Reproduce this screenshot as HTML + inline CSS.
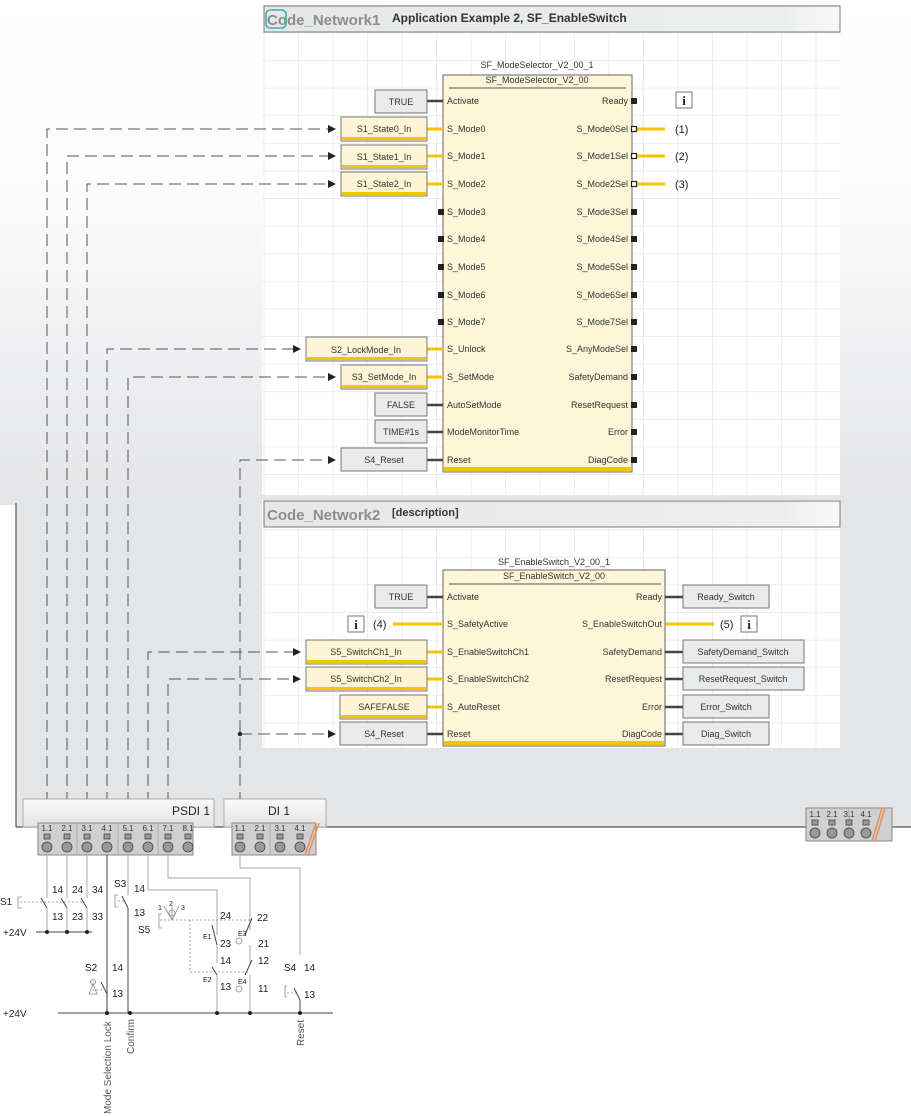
<!DOCTYPE html>
<html><head><meta charset="utf-8"><style>
html,body{margin:0;padding:0;background:#fff}
svg{display:block;font-family:"Liberation Sans",sans-serif}
</style></head><body>
<svg width="911" height="1116" viewBox="0 0 911 1116" xmlns="http://www.w3.org/2000/svg">
<defs>
<linearGradient id="bg" x1="0" y1="0" x2="0" y2="1">
<stop offset="0" stop-color="#ffffff"/><stop offset="0.4" stop-color="#fbfbfb"/><stop offset="0.8" stop-color="#eaebed"/><stop offset="1" stop-color="#e4e5e7"/>
</linearGradient>
<linearGradient id="hdr" x1="0" y1="0" x2="1" y2="0">
<stop offset="0" stop-color="#e6e8e8"/><stop offset="0.9" stop-color="#eceeee"/><stop offset="1" stop-color="#f8f8f8"/>
</linearGradient>
<linearGradient id="mod" x1="0" y1="0" x2="0" y2="1">
<stop offset="0" stop-color="#fafafa"/><stop offset="1" stop-color="#e2e3e5"/>
</linearGradient>
<pattern id="grid" x="298" y="60" width="34.5" height="27.6" patternUnits="userSpaceOnUse">
<path d="M0 0V27.6M0 0H34.5" stroke="#ececec" stroke-width="2" fill="none"/>
</pattern>
<marker id="ar" markerWidth="8" markerHeight="8" refX="7" refY="4" orient="auto" markerUnits="userSpaceOnUse">
<path d="M0 0L8 4L0 8z" fill="#222"/>
</marker>
</defs>
<rect x="0" y="0" width="911" height="505" fill="url(#bg)"/>
<rect x="16" y="505" width="895" height="322" fill="#e4e5e7"/>
<line x1="16" y1="503" x2="16" y2="827" stroke="#555" stroke-width="1.2"/>
<line x1="16" y1="827" x2="911" y2="827" stroke="#555" stroke-width="1.2"/>

<rect x="262" y="5" width="578" height="490" fill="#fff"/>
<rect x="262" y="5" width="578" height="490" fill="url(#grid)"/>
<rect x="262" y="500" width="578" height="248" fill="#fff"/>
<rect x="262" y="500" width="578" height="248" fill="url(#grid)"/>
<rect x="264" y="6" width="576" height="26" fill="url(#hdr)" stroke="#777"/>
<rect x="266" y="10" width="20" height="18" rx="4" fill="none" stroke="#3aaeb5" stroke-width="1.6"/>
<text x="267" y="25" font-size="15" font-weight="bold" fill="#8c8c8c">Code_Network1</text>
<text x="392" y="22" font-size="12" font-weight="bold" fill="#333">Application Example 2, SF_EnableSwitch</text>
<rect x="264" y="501" width="576" height="26" fill="url(#hdr)" stroke="#777"/>
<text x="267" y="520" font-size="15" font-weight="bold" fill="#8c8c8c">Code_Network2</text>
<text x="392" y="516" font-size="11" font-weight="bold" fill="#333">[description]</text>

<g stroke="#555" stroke-width="1" fill="none" stroke-dasharray="12,6">
<path d="M47 822V129H335" marker-end="url(#ar)"/>
<path d="M67 822V156H335" marker-end="url(#ar)"/>
<path d="M87 822V184H335" marker-end="url(#ar)"/>
<path d="M107 822V349H300" marker-end="url(#ar)"/>
<path d="M128 822V377H335" marker-end="url(#ar)"/>
<path d="M148 822V652H300" marker-end="url(#ar)"/>
<path d="M168 822V679H300" marker-end="url(#ar)"/>
<path d="M240 822V460H335" marker-end="url(#ar)"/>
<path d="M240 734H335" marker-end="url(#ar)"/>
</g>
<circle cx="240" cy="734" r="2.2" fill="#222"/>

<text x="537" y="68" font-size="9" text-anchor="middle" fill="#333">SF_ModeSelector_V2_00_1</text>
<rect x="443" y="75" width="189" height="397" fill="#fdf6d8" stroke="#666"/>
<rect x="444" y="467" width="187" height="4" fill="#f5c400"/>
<text x="537" y="83" font-size="9" text-anchor="middle" fill="#333">SF_ModeSelector_V2_00</text>
<line x1="449" y1="88" x2="626" y2="88" stroke="#555"/>
<g font-size="9" fill="#333">
<text x="447" y="104">Activate</text><text x="447" y="132">S_Mode0</text><text x="447" y="159">S_Mode1</text><text x="447" y="187">S_Mode2</text>
<text x="447" y="215">S_Mode3</text><text x="447" y="242">S_Mode4</text><text x="447" y="270">S_Mode5</text><text x="447" y="298">S_Mode6</text>
<text x="447" y="325">S_Mode7</text><text x="447" y="352">S_Unlock</text><text x="447" y="380">S_SetMode</text><text x="447" y="408">AutoSetMode</text>
<text x="447" y="435">ModeMonitorTime</text><text x="447" y="463">Reset</text>
</g>
<g font-size="9" fill="#333" text-anchor="end">
<text x="628" y="104">Ready</text><text x="628" y="132">S_Mode0Sel</text><text x="628" y="159">S_Mode1Sel</text><text x="628" y="187">S_Mode2Sel</text>
<text x="628" y="215">S_Mode3Sel</text><text x="628" y="242">S_Mode4Sel</text><text x="628" y="270">S_Mode5Sel</text><text x="628" y="298">S_Mode6Sel</text>
<text x="628" y="325">S_Mode7Sel</text><text x="628" y="352">S_AnyModeSel</text><text x="628" y="380">SafetyDemand</text><text x="628" y="408">ResetRequest</text>
<text x="628" y="435">Error</text><text x="628" y="463">DiagCode</text>
</g>
<g fill="#222">
<rect x="631" y="98" width="6" height="6"/>
<rect x="631" y="209" width="6" height="6"/><rect x="631" y="236" width="6" height="6"/><rect x="631" y="264" width="6" height="6"/>
<rect x="631" y="292" width="6" height="6"/><rect x="631" y="319" width="6" height="6"/><rect x="631" y="346" width="6" height="6"/>
<rect x="631" y="374" width="6" height="6"/><rect x="631" y="402" width="6" height="6"/><rect x="631" y="429" width="6" height="6"/><rect x="631" y="457" width="6" height="6"/>
<rect x="438" y="209" width="6" height="6"/><rect x="438" y="236" width="6" height="6"/><rect x="438" y="264" width="6" height="6"/>
<rect x="438" y="292" width="6" height="6"/><rect x="438" y="319" width="6" height="6"/>
</g>
<g stroke="#f5c400" stroke-width="3">
<line x1="632" y1="129" x2="665" y2="129"/><line x1="632" y1="156" x2="665" y2="156"/><line x1="632" y1="184" x2="665" y2="184"/>
<line x1="427" y1="129" x2="443" y2="129"/><line x1="427" y1="156" x2="443" y2="156"/><line x1="427" y1="184" x2="443" y2="184"/>
<line x1="427" y1="349" x2="443" y2="349"/><line x1="427" y1="377" x2="443" y2="377"/>
</g>
<g fill="#fff" stroke="#222" stroke-width="1.2"><rect x="631.5" y="126.5" width="5" height="5"/><rect x="631.5" y="153.5" width="5" height="5"/><rect x="631.5" y="181.5" width="5" height="5"/></g>
<g stroke="#444" stroke-width="2.5">
<line x1="427" y1="101" x2="443" y2="101"/><line x1="427" y1="405" x2="443" y2="405"/><line x1="427" y1="432" x2="443" y2="432"/><line x1="427" y1="460" x2="443" y2="460"/>
</g>
<g font-size="11" fill="#222"><text x="675" y="133">(1)</text><text x="675" y="160">(2)</text><text x="675" y="188">(3)</text></g>
<rect x="676" y="92" width="16" height="16" fill="#fff" stroke="#777"/><text x="684" y="105" font-size="13" font-weight="bold" font-family="Liberation Serif,serif" text-anchor="middle" fill="#222">i</text>

<g font-size="9" fill="#333" text-anchor="middle">
<rect x="375" y="90" width="52" height="23" fill="#e9eaeb" stroke="#777"/><text x="401" y="105">TRUE</text>
<rect x="341" y="117" width="86" height="24" fill="#fdf5d5" stroke="#777"/><rect x="342" y="137" width="84" height="3" fill="#f5c400"/><text x="384" y="132">S1_State0_In</text>
<rect x="341" y="145" width="86" height="24" fill="#fdf5d5" stroke="#777"/><rect x="342" y="165" width="84" height="3" fill="#f5c400"/><text x="384" y="160">S1_State1_In</text>
<rect x="341" y="172" width="86" height="24" fill="#fdf5d5" stroke="#777"/><rect x="342" y="192" width="84" height="3" fill="#f5c400"/><text x="384" y="187">S1_State2_In</text>
<rect x="306" y="337" width="121" height="24" fill="#fdf5d5" stroke="#777"/><rect x="307" y="357" width="119" height="3" fill="#f5c400"/><text x="366" y="353">S2_LockMode_In</text>
<rect x="341" y="365" width="86" height="24" fill="#fdf5d5" stroke="#777"/><rect x="342" y="385" width="84" height="3" fill="#f5c400"/><text x="384" y="380">S3_SetMode_In</text>
<rect x="375" y="393" width="52" height="23" fill="#e9eaeb" stroke="#777"/><text x="401" y="408">FALSE</text>
<rect x="375" y="420" width="52" height="23" fill="#e9eaeb" stroke="#777"/><text x="401" y="435">TIME#1s</text>
<rect x="341" y="448" width="86" height="23" fill="#e9eaeb" stroke="#777"/><text x="384" y="463">S4_Reset</text>
</g>

<text x="554" y="565" font-size="9" text-anchor="middle" fill="#333">SF_EnableSwitch_V2_00_1</text>
<rect x="443" y="570" width="222" height="176" fill="#fdf6d8" stroke="#666"/>
<rect x="444" y="741" width="220" height="4" fill="#f5c400"/>
<text x="554" y="579" font-size="9" text-anchor="middle" fill="#333">SF_EnableSwitch_V2_00</text>
<line x1="449" y1="584" x2="661" y2="584" stroke="#555"/>
<g font-size="9" fill="#333">
<text x="447" y="600">Activate</text><text x="447" y="627">S_SafetyActive</text><text x="447" y="655">S_EnableSwitchCh1</text>
<text x="447" y="682">S_EnableSwitchCh2</text><text x="447" y="710">S_AutoReset</text><text x="447" y="737">Reset</text>
</g>
<g font-size="9" fill="#333" text-anchor="end">
<text x="662" y="600">Ready</text><text x="662" y="627">S_EnableSwitchOut</text><text x="662" y="655">SafetyDemand</text>
<text x="662" y="682">ResetRequest</text><text x="662" y="710">Error</text><text x="662" y="737">DiagCode</text>
</g>
<g stroke="#f5c400" stroke-width="3">
<line x1="393" y1="624" x2="443" y2="624"/><line x1="666" y1="624" x2="714" y2="624"/>
<line x1="427" y1="652" x2="443" y2="652"/><line x1="427" y1="679" x2="443" y2="679"/><line x1="427" y1="707" x2="443" y2="707"/>
</g>
<g stroke="#444" stroke-width="2.5">
<line x1="427" y1="597" x2="443" y2="597"/><line x1="427" y1="734" x2="443" y2="734"/>
<line x1="665" y1="597" x2="683" y2="597"/><line x1="665" y1="652" x2="683" y2="652"/><line x1="665" y1="679" x2="683" y2="679"/>
<line x1="665" y1="707" x2="683" y2="707"/><line x1="665" y1="734" x2="683" y2="734"/>
</g>
<g font-size="11" fill="#222"><text x="373" y="628">(4)</text><text x="720" y="628">(5)</text></g>
<rect x="348" y="616" width="16" height="16" fill="#fff" stroke="#777"/><text x="356" y="629" font-size="13" font-weight="bold" font-family="Liberation Serif,serif" text-anchor="middle" fill="#222">i</text>
<rect x="741" y="616" width="16" height="16" fill="#fff" stroke="#777"/><text x="749" y="629" font-size="13" font-weight="bold" font-family="Liberation Serif,serif" text-anchor="middle" fill="#222">i</text>
<g font-size="9" fill="#333" text-anchor="middle">
<rect x="375" y="585" width="52" height="23" fill="#e9eaeb" stroke="#777"/><text x="401" y="600">TRUE</text>
<rect x="306" y="640" width="121" height="24" fill="#fdf5d5" stroke="#777"/><rect x="307" y="660" width="119" height="3" fill="#f5c400"/><text x="366" y="655">S5_SwitchCh1_In</text>
<rect x="306" y="667" width="121" height="24" fill="#fdf5d5" stroke="#777"/><rect x="307" y="687" width="119" height="3" fill="#f5c400"/><text x="366" y="682">S5_SwitchCh2_In</text>
<rect x="340" y="695" width="87" height="24" fill="#fdf5d5" stroke="#777"/><rect x="341" y="715" width="85" height="3" fill="#f5c400"/><text x="384" y="710">SAFEFALSE</text>
<rect x="340" y="722" width="87" height="23" fill="#e9eaeb" stroke="#777"/><text x="384" y="737">S4_Reset</text>
<rect x="683" y="585" width="86" height="23" fill="#e9eaeb" stroke="#777"/><text x="726" y="600">Ready_Switch</text>
<rect x="683" y="640" width="121" height="23" fill="#e9eaeb" stroke="#777"/><text x="743" y="655">SafetyDemand_Switch</text>
<rect x="683" y="667" width="121" height="23" fill="#e9eaeb" stroke="#777"/><text x="743" y="682">ResetRequest_Switch</text>
<rect x="683" y="695" width="86" height="23" fill="#e9eaeb" stroke="#777"/><text x="726" y="710">Error_Switch</text>
<rect x="683" y="722" width="86" height="23" fill="#e9eaeb" stroke="#777"/><text x="726" y="737">Diag_Switch</text>
</g>

<rect x="23" y="799" width="191" height="28" fill="url(#mod)" stroke="#aaa"/>
<text x="172" y="815" font-size="12" fill="#222">PSDI 1</text>
<rect x="224" y="799" width="102" height="28" fill="url(#mod)" stroke="#aaa"/>
<text x="268" y="815" font-size="12" fill="#222">DI 1</text>
<rect x="38" y="823" width="155" height="32" fill="#cfd0d2" stroke="#888"/>
<rect x="232" y="823" width="84" height="32" fill="#cfd0d2" stroke="#888"/>
<rect x="806" y="808" width="86" height="33" fill="#cfd0d2" stroke="#888"/>
<g stroke="#aaa"><line x1="77" y1="824" x2="77" y2="854"/><line x1="118" y1="824" x2="118" y2="854"/><line x1="158" y1="824" x2="158" y2="854"/><line x1="270" y1="824" x2="270" y2="854"/><line x1="849" y1="809" x2="849" y2="840"/></g>
<g font-size="8" fill="#333" text-anchor="middle">
<text x="47" y="831">1.1</text><text x="67" y="831">2.1</text><text x="87" y="831">3.1</text><text x="107" y="831">4.1</text>
<text x="128" y="831">5.1</text><text x="148" y="831">6.1</text><text x="168" y="831">7.1</text><text x="188" y="831">8.1</text>
<text x="240" y="831">1.1</text><text x="260" y="831">2.1</text><text x="280" y="831">3.1</text><text x="300" y="831">4.1</text>
<text x="815" y="817">1.1</text><text x="832" y="817">2.1</text><text x="849" y="817">3.1</text><text x="866" y="817">4.1</text>
</g>
<g fill="#999" stroke="#444" stroke-width="0.8">
<rect x="44" y="834" width="6" height="5"/><rect x="64" y="834" width="6" height="5"/><rect x="84" y="834" width="6" height="5"/><rect x="104" y="834" width="6" height="5"/>
<rect x="125" y="834" width="6" height="5"/><rect x="145" y="834" width="6" height="5"/><rect x="165" y="834" width="6" height="5"/><rect x="185" y="834" width="6" height="5"/>
<rect x="237" y="834" width="6" height="5"/><rect x="257" y="834" width="6" height="5"/><rect x="277" y="834" width="6" height="5"/><rect x="297" y="834" width="6" height="5"/>
<rect x="812" y="820" width="6" height="5"/><rect x="829" y="820" width="6" height="5"/><rect x="846" y="820" width="6" height="5"/><rect x="863" y="820" width="6" height="5"/>
<circle cx="47" cy="847" r="5"/><circle cx="67" cy="847" r="5"/><circle cx="87" cy="847" r="5"/><circle cx="107" cy="847" r="5"/>
<circle cx="128" cy="847" r="5"/><circle cx="148" cy="847" r="5"/><circle cx="168" cy="847" r="5"/><circle cx="188" cy="847" r="5"/>
<circle cx="240" cy="847" r="5"/><circle cx="260" cy="847" r="5"/><circle cx="280" cy="847" r="5"/><circle cx="300" cy="847" r="5"/>
<circle cx="815" cy="833" r="5"/><circle cx="832" cy="833" r="5"/><circle cx="849" cy="833" r="5"/><circle cx="866" cy="833" r="5"/>
</g>
<g stroke="#e8905a" stroke-width="1.5"><line x1="305" y1="855" x2="316" y2="823"/><line x1="308" y1="855" x2="319" y2="823"/><line x1="872" y1="841" x2="882" y2="808"/><line x1="875" y1="841" x2="885" y2="808"/></g>

<g stroke="#aaa" stroke-width="1" fill="none">
<path d="M47 855V898M67 855V898M87 855V898"/>
<path d="M128 855V895"/>
<path d="M148 855V890H217V935"/>
<path d="M168 855V878H250V930"/>
<path d="M240 855V868H300V955"/>
<path d="M47 908V932M67 908V932M87 908V932"/>
<path d="M217 945V963M217 975V1013M250 945V963M250 975V1013"/>
</g>
<g stroke="#444" stroke-width="1" fill="none">
<path d="M107 855V1013"/>
<path d="M128 908V1013"/>
<path d="M300 1000V1013"/>
<path d="M36 932H92"/>
<path d="M58 1013H333"/>
<path d="M41 898L47 908M61 898L67 908M81 898L87 908"/>
<path d="M122 896L128 908"/>
<path d="M101 982L107 994"/>
<path d="M294 988L300 1000"/>
<path d="M212 925L217 945M245 935L252 918M212 967L217 975M245 975L252 960"/>
</g>
<g stroke="#888" stroke-width="0.8" fill="none" stroke-dasharray="2,2">
<path d="M20 902H84"/><path d="M118 901H126"/><path d="M160 920H250"/><path d="M190 920V972H250"/><path d="M92 990H104"/><path d="M287 993H296"/>
</g>
<g stroke="#888" stroke-width="0.8" fill="none">
<path d="M22 897H18V908H22"/><path d="M118 895H115V907H118"/><path d="M162 914H159V928H162"/><path d="M287 986H285V997H287"/>
<path d="M172 920L164 906M172 920L172 906M172 920L179 906"/>
<circle cx="172" cy="913" r="3"/><circle cx="239" cy="941" r="3"/><circle cx="239" cy="989" r="3"/>
<path d="M89 994H97L93 984Z"/><circle cx="93" cy="982" r="2.5"/>
</g>
<g fill="#222"><circle cx="47" cy="932" r="2"/><circle cx="67" cy="932" r="2"/><circle cx="87" cy="932" r="2"/>
<circle cx="107" cy="1013" r="2"/><circle cx="130" cy="1013" r="2"/><circle cx="217" cy="1013" r="2"/><circle cx="250" cy="1013" r="2"/><circle cx="300" cy="1013" r="2"/></g>
<g font-size="10" fill="#222">
<text x="0" y="905">S1</text><text x="52" y="893">14</text><text x="72" y="893">24</text><text x="92" y="893">34</text>
<text x="52" y="920">13</text><text x="72" y="920">23</text><text x="92" y="920">33</text>
<text x="3" y="936">+24V</text><text x="3" y="1017">+24V</text>
<text x="114" y="887">S3</text><text x="134" y="892">14</text><text x="134" y="916">13</text>
<text x="85" y="971">S2</text><text x="112" y="971">14</text><text x="112" y="997">13</text>
<text x="138" y="933">S5</text>
<text x="220" y="919">24</text><text x="220" y="947">23</text><text x="220" y="964">14</text><text x="220" y="990">13</text>
<text x="257" y="921">22</text><text x="258" y="947">21</text><text x="258" y="964">12</text><text x="258" y="992">11</text>
<text x="284" y="971">S4</text><text x="304" y="971">14</text><text x="304" y="998">13</text>
</g>
<g font-size="7" fill="#222"><text x="158" y="910">1</text><text x="169" y="906">2</text><text x="181" y="910">3</text>
<text x="203" y="939">E1</text><text x="203" y="982">E2</text><text x="238" y="936">E3</text><text x="238" y="984">E4</text></g>
<g font-size="10" fill="#555">
<text transform="translate(111,1114) rotate(-90)">Mode Selection Lock</text>
<text transform="translate(134,1054) rotate(-90)">Confirm</text>
<text transform="translate(304,1046) rotate(-90)">Reset</text>
</g>
</svg>
</body></html>
